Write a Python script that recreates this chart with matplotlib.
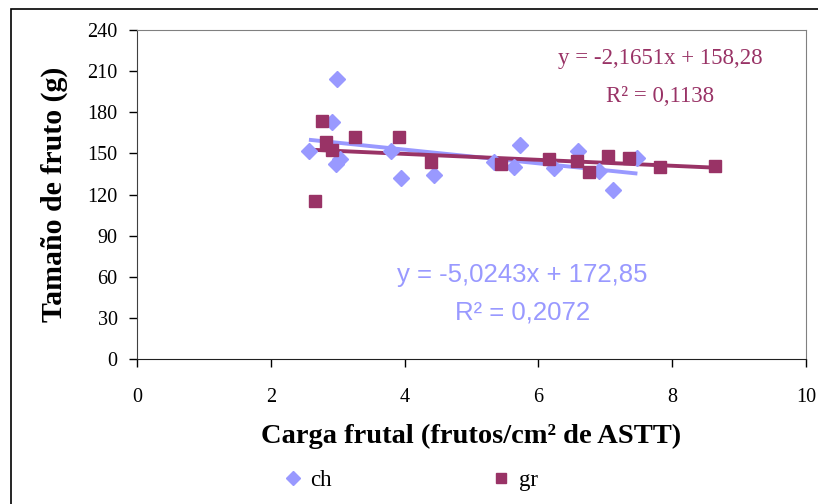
import numpy as np
import matplotlib.pyplot as plt
from matplotlib.patches import Rectangle

# ch series (diamonds)
ch_x = [2.57, 2.91, 2.99, 2.97, 3.04, 3.80, 3.94, 4.44, 5.34, 5.63, 5.72, 6.23, 6.59, 6.90, 7.11, 7.48]
ch_y = [151.9, 173.0, 204.2, 142.0, 145.9, 152.0, 131.8, 134.4, 143.9, 140.0, 155.9, 139.0, 152.0, 137.0, 123.3, 146.4]

# gr series (squares)
gr_x = [2.66, 2.77, 2.83, 2.92, 3.26, 3.91, 4.40, 5.44, 6.16, 6.57, 6.75, 7.04, 7.36, 7.82, 8.64]
gr_y = [115.5, 173.6, 158.5, 152.4, 162.0, 162.0, 143.9, 142.0, 145.9, 144.4, 136.6, 148.3, 146.8, 139.8, 141.0]

# trendline coefficients as printed on the chart
ch_fit = (-5.0243, 172.85)
gr_fit = (-2.1651, 158.28)

x_ticks = [0, 2, 4, 6, 8, 10]
y_ticks = [0, 30, 60, 90, 120, 150, 180, 210, 240]

CH_COLOR = '#9999FF'
GR_COLOR = '#993366'
serif = 'Liberation Serif'
sans = 'Liberation Sans'

fig = plt.figure(figsize=(8.18, 5.04), dpi=100)
ax = fig.add_axes([137/818, 1 - 359/504, (806-137)/818, (359-30)/504])

# outer frame (only top and left visible in the original crop)
fig.patches.append(Rectangle((11/818, -0.1), 1.2, (504-9)/504 + 0.1,
                             transform=fig.transFigure, fill=False,
                             edgecolor='black', linewidth=1.2))

# trendlines
for xs, (m, b), col in [(ch_x, ch_fit, CH_COLOR), (gr_x, gr_fit, GR_COLOR)]:
    xx = np.array([min(xs), max(xs)])
    ax.plot(xx, m * xx + b, color=col, linewidth=2.8, solid_capstyle='butt', zorder=2)

ax.plot(ch_x, ch_y, linestyle='none', marker='D', markersize=8.5,
        color=CH_COLOR, label='ch', zorder=3)
ax.plot(gr_x, gr_y, linestyle='none', marker='s', markersize=8.5,
        color=GR_COLOR, label='gr', zorder=3)

ax.set_xlim(0, 10)
ax.set_ylim(0, 240)
ax.set_xticks(x_ticks)
ax.set_yticks(y_ticks)
ax.tick_params(direction='out', length=6, width=1, labelsize=14.5)
ax.tick_params(axis='y', pad=8)
ax.tick_params(axis='x', pad=15)
for lab in ax.get_xticklabels() + ax.get_yticklabels():
    lab.set_fontfamily(serif)

ax.spines['top'].set_color('#808080')
ax.spines['right'].set_color('#808080')
ax.spines['left'].set_color('#404040')
ax.spines['bottom'].set_color('#202020')

ax.set_ylabel('Tamaño de fruto (g)', fontfamily=serif, fontweight='bold',
              fontsize=21.5, labelpad=14)
ax.set_xlabel('Carga frutal (frutos/cm² de ASTT)', fontfamily=serif,
              fontweight='bold', fontsize=20.5, labelpad=12)

# equations
ax.text(7.82, 219.5, 'y = -2,1651x + 158,28', color=GR_COLOR, fontfamily=serif,
        fontsize=16.5, ha='center', va='center')
ax.text(7.82, 191.5, 'R² = 0,1138', color=GR_COLOR, fontfamily=serif,
        fontsize=16.5, ha='center', va='center')
ax.text(5.76, 61, 'y = -5,0243x + 172,85', color=CH_COLOR, fontfamily=sans,
        fontsize=18.5, ha='center', va='center')
ax.text(5.76, 34, 'R² = 0,2072', color=CH_COLOR, fontfamily=sans,
        fontsize=18.5, ha='center', va='center')

fig.legend(loc='center', bbox_to_anchor=(0.502, 1 - 480/504), ncol=2,
           frameon=False, prop={'family': serif, 'size': 16.5},
           handlelength=0.8, handletextpad=0.35, columnspacing=7.0,
           markerscale=0.85)

fig.savefig('out.png', dpi=100)
